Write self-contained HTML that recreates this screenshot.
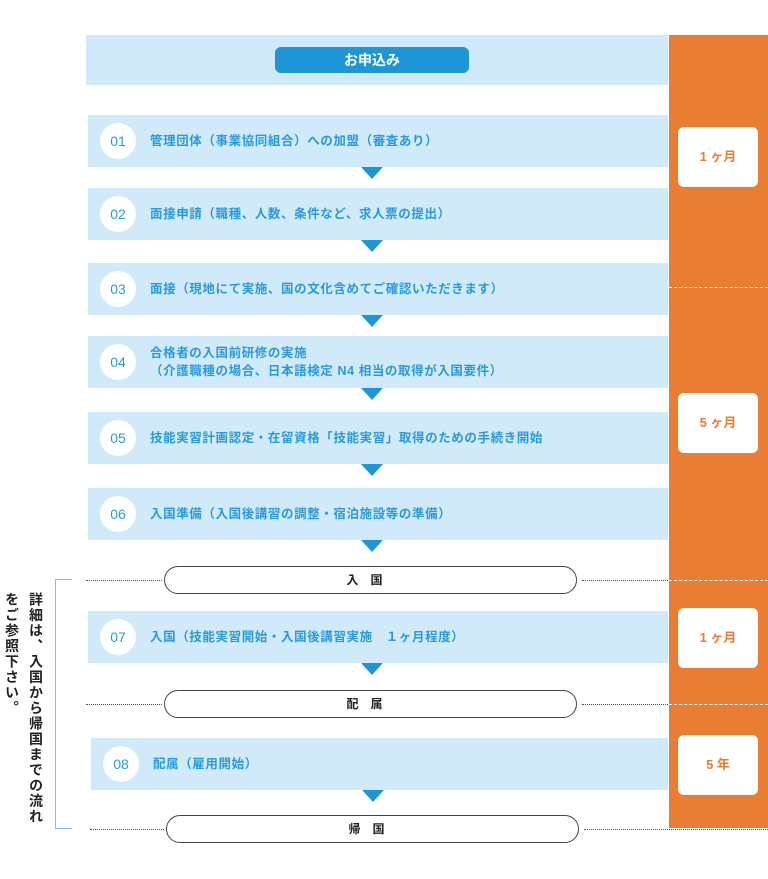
<!DOCTYPE html>
<html><head><meta charset="utf-8"><style>
body{margin:0;width:768px;height:879px;position:relative;background:#fff;font-family:"Liberation Sans","Noto Sans CJK JP",sans-serif;overflow:hidden}
.a{position:absolute}
.band{position:absolute;background:#d0eafa;height:52px;left:88px;width:580px}
.circ{position:absolute;left:12px;top:8px;width:36px;height:36px;border-radius:50%;background:#fff;color:#2a9ad8;font-size:14px;text-align:center;line-height:36px}
.txt{position:absolute;left:62px;top:0;height:52px;display:flex;align-items:center;color:#2a9ad8;font-size:12.5px;font-weight:bold;letter-spacing:0.6px;line-height:18px;white-space:nowrap}
.arr{position:absolute;width:0;height:0;border-left:11px solid transparent;border-right:11px solid transparent;border-top:12px solid #1e96d6;left:361px}
.pill{position:absolute;height:26px;border:1.5px solid #444;border-radius:14px;background:#fff;text-align:center;line-height:26px;font-size:12px;font-weight:bold;color:#222;letter-spacing:12px}
.dl{position:absolute;border-top:1.5px dotted #555;height:0}
.wd{position:absolute;left:669px;width:99px;border-top:1px dashed #fff;height:0}
.ob{position:absolute;left:678px;width:80px;height:60px;background:#fff;border-radius:6px;color:#e97d33;font-size:13px;font-weight:bold;text-align:center;line-height:60px}
.vt{position:absolute;writing-mode:vertical-rl;font-size:14px;font-weight:bold;color:#222;letter-spacing:1.5px;line-height:16px;white-space:nowrap}
</style></head><body>
<div class="a" style="left:86px;top:35px;width:582px;height:50px;background:#d0eafa"></div>
<div class="a" style="left:275px;top:47px;width:194px;height:26px;background:#1e96d6;border-radius:6px;color:#fff;font-size:14px;font-weight:bold;text-align:center;line-height:26px">お申込み</div>
<div class="a" style="left:669px;top:35px;width:99px;height:793px;background:#e97d33"></div>

<div class="band" style="top:115px"><div class="circ">01</div><div class="txt">管理団体（事業協同組合）への加盟（審査あり）</div></div>
<div class="arr" style="top:167px"></div>
<div class="band" style="top:188px"><div class="circ">02</div><div class="txt">面接申請（職種、人数、条件など、求人票の提出）</div></div>
<div class="arr" style="top:240px"></div>
<div class="band" style="top:263px"><div class="circ">03</div><div class="txt">面接（現地にて実施、国の文化含めてご確認いただきます）</div></div>
<div class="arr" style="top:315px"></div>
<div class="band" style="top:336px"><div class="circ">04</div><div class="txt">合格者の入国前研修の実施<br>（介護職種の場合、日本語検定 N4 相当の取得が入国要件）</div></div>
<div class="arr" style="top:388px"></div>
<div class="band" style="top:412px"><div class="circ">05</div><div class="txt">技能実習計画認定・在留資格「技能実習」取得のための手続き開始</div></div>
<div class="arr" style="top:464px"></div>
<div class="band" style="top:488px"><div class="circ">06</div><div class="txt">入国準備（入国後講習の調整・宿泊施設等の準備）</div></div>
<div class="arr" style="top:540px"></div>
<div class="pill" style="left:164px;top:566px;width:411px">入国</div>
<div class="band" style="top:611px"><div class="circ">07</div><div class="txt">入国（技能実習開始・入国後講習実施　１ヶ月程度）</div></div>
<div class="arr" style="top:663px"></div>
<div class="pill" style="left:164px;top:690px;width:411px">配属</div>
<div class="band" style="top:738px;left:91px;width:577px"><div class="circ" style="left:12px">08</div><div class="txt">配属（雇用開始）</div></div>
<div class="arr" style="top:790px;left:362px"></div>
<div class="pill" style="left:166px;top:815px;width:411px">帰国</div>

<div class="dl" style="left:86px;top:580px;width:76px"></div>
<div class="dl" style="left:582px;top:580px;width:86px"></div>
<div class="dl" style="left:86px;top:704px;width:76px"></div>
<div class="dl" style="left:582px;top:704px;width:86px"></div>
<div class="dl" style="left:90px;top:829px;width:74px"></div>
<div class="dl" style="left:584px;top:829px;width:184px"></div>
<div class="wd" style="top:287px"></div>
<div class="wd" style="top:580px"></div>
<div class="wd" style="top:704px"></div>

<div class="ob" style="top:127px">1 ヶ月</div>
<div class="ob" style="top:393px">5 ヶ月</div>
<div class="ob" style="top:608px">1 ヶ月</div>
<div class="ob" style="top:735px">5 年</div>

<div class="a" style="left:55px;top:579px;width:17px;height:250px;border:1.5px solid #7ac0ea;border-right:none;box-sizing:border-box"></div>
<div class="vt" style="left:28px;top:592px">詳細は、入国から帰国までの流れ</div>
<div class="vt" style="left:4px;top:592px">をご参照下さい。</div>
</body></html>
